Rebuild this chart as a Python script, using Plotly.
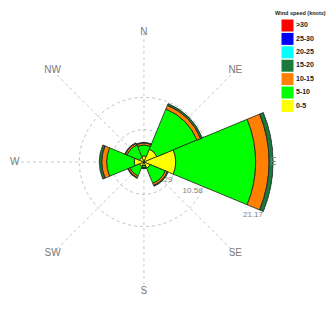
import plotly.graph_objects as go

directions = ["N", "NE", "E", "SE", "S", "SW", "W", "NW"]
bin_labels = ["0-5", "5-10", "10-15", "15-20", "20-25", "25-30", ">30"]
bin_colors = ["#ffff00", "#00ff00", "#ff8000", "#1a7a3c", "#00ffff", "#0000ff", "#ff0000"]

# percent frequency per direction for each speed bin
v_0_5 = [1.0, 2.3, 5.2, 1.1, 0.6, 0.8, 1.6, 0.8]
v_5_10 = [1.8, 7.1, 13.1, 2.7, 0.3, 1.7, 4.5, 2.2]
v_10_15 = [0.3, 0.65, 2.2, 0.35, 0.1, 0.3, 0.8, 0.3]
v_15_20 = [0.1, 0.3, 0.67, 0.15, 0.1, 0.1, 0.4, 0.1]
v_20_25 = [0, 0, 0, 0, 0, 0, 0, 0]
v_25_30 = [0, 0, 0, 0, 0, 0, 0, 0]
v_gt30 = [0, 0, 0, 0, 0, 0, 0, 0]

ring_vals = [5.29, 10.58, 21.17]
ring_text = ["5.29", "10.58", "21.17"]
r_max = 21.17
legend_title = "Wind speed (knots)"

series = [v_0_5, v_5_10, v_10_15, v_15_20, v_20_25, v_25_30, v_gt30]

fig = go.Figure()
for name, col, vals in zip(bin_labels, bin_colors, series):
    fig.add_trace(go.Barpolar(
        r=vals, theta=directions, name=name, showlegend=False,
        marker=dict(color=col, line=dict(color="#202020", width=0.8)),
    ))

fig.add_trace(go.Scatterpolar(
    r=[r_max] * len(directions), theta=directions, text=directions,
    mode="text", textfont=dict(size=10, color="#7a7a7a", family="Arial"),
    showlegend=False, hoverinfo="skip", cliponaxis=False,
))

# hand-built legend: one square per speed bin
fig.add_trace(go.Scatter(
    x=[0] * len(bin_labels), y=bin_labels,
    mode="markers+text",
    text=["<b>" + b + "</b>" for b in bin_labels],
    textposition="middle right",
    textfont=dict(size=7, color="#222", family="Arial"),
    marker=dict(symbol="square", size=12, color=bin_colors, line=dict(width=0)),
    xaxis="x2", yaxis="y2", showlegend=False, cliponaxis=False, hoverinfo="skip",
))

fig.update_layout(
    width=334, height=327,
    margin=dict(l=0, r=0, t=0, b=0),
    paper_bgcolor="white",
    plot_bgcolor="rgba(0,0,0,0)",
    barmode="stack",
    polar=dict(
        domain=dict(x=[0.018, 0.796], y=[0.13, 0.928]),
        bgcolor="white",
        bargap=0,
        angularaxis=dict(
            rotation=90, direction="clockwise",
            categoryorder="array", categoryarray=directions,
            showticklabels=False, ticks="",
            showline=False,
            showgrid=True, gridcolor="#c8c8c8", griddash="dot", gridwidth=1,
        ),
        radialaxis=dict(
            range=[0, r_max * 1.005],
            tickvals=ring_vals, ticktext=ring_text,
            showline=False, ticks="",
            angle=-21,
            tickangle=-21,
            layer="below traces",
            tickfont=dict(size=8, color="#808080", family="Arial"),
            showgrid=True, gridcolor="#c0c0c0", griddash="dot", gridwidth=1,
        ),
    ),
    xaxis2=dict(domain=[0.80, 1.0], range=[-1, 4.43], visible=False, fixedrange=True),
    yaxis2=dict(domain=[0.680, 0.967], type="category",
                categoryorder="array", categoryarray=bin_labels,
                range=[-0.5, 6.5], visible=False, fixedrange=True, anchor="x2"),
    annotations=[dict(
        text="<b>" + legend_title + "</b>", xref="paper", yref="paper",
        x=0.793, y=1.0, xanchor="left", yanchor="top", showarrow=False,
        font=dict(size=5.5, color="#222", family="Arial"),
    )],
)

fig.write_html("out.html")
